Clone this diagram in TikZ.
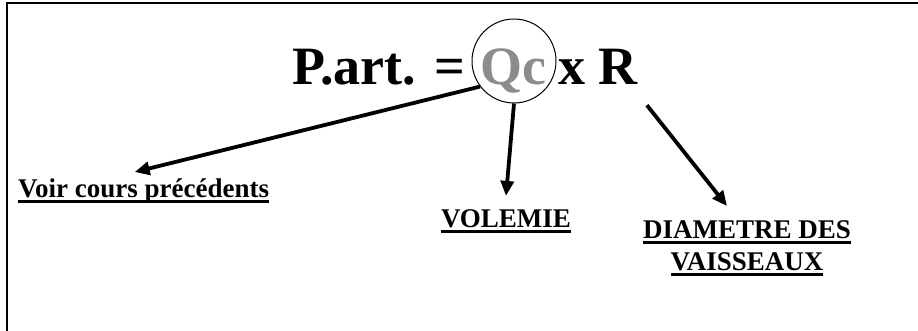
\documentclass[tikz,border=0pt]{standalone}
\usepackage{fontspec}
\setmainfont{Liberation Serif}
\usetikzlibrary{positioning,arrows.meta}
\newcommand{\ulword}[1]{\setbox0\hbox{#1}\rlap{\rule[-5.5pt]{\wd0}{3pt}}\box0}

\begin{document}
\begin{tikzpicture}[x=1pt, y=-1pt,
  formula/.style={font=\fontsize{54}{60}\selectfont\bfseries, inner sep=0pt, anchor=base west},
  lbl/.style={font=\fontsize{27}{32}\selectfont\bfseries, inner sep=0pt, align=center},
  ring/.style={draw, circle, line width=1pt, minimum size=84pt, inner sep=0pt},
  arr/.style={-{Triangle[length=15pt, width=13pt]}, line width=3.8pt},
]
  \useasboundingbox (0,0) rectangle (918,331);
  \draw[line width=1.8pt] (7,331) -- (7,3) -- (918,3);

  % formula
  \node[formula] (part) at (292,85) {P.art. =};
  \node[ring] (qcring) at (514,61) {};
  \node[formula, text=black!45] (qc) at (480,85) {Qc};
  \node[formula] (xr) at (558,85) {x R};

  % labels
  \node[lbl, anchor=base west] (voir) at (18,197) {\ulword{Voir cours précédents}};
  \node[lbl, anchor=base] (volemie) at (506,228) {\ulword{VOLEMIE}};
  \node[lbl, anchor=north] (diam) at (747,220) {\ulword{DIAMETRE DES}\\\ulword{VAISSEAUX}};

  \draw[arr] (qcring.217) -- ([xshift=-9pt, yshift=6pt]voir.north);
  \draw[arr] (qcring.south) -- ([yshift=14pt]volemie.north);
  \draw[arr] ([xshift=9pt, yshift=-20pt]xr.south east) -- ([xshift=-20pt, yshift=14pt]diam.north);
\end{tikzpicture}
\end{document}
